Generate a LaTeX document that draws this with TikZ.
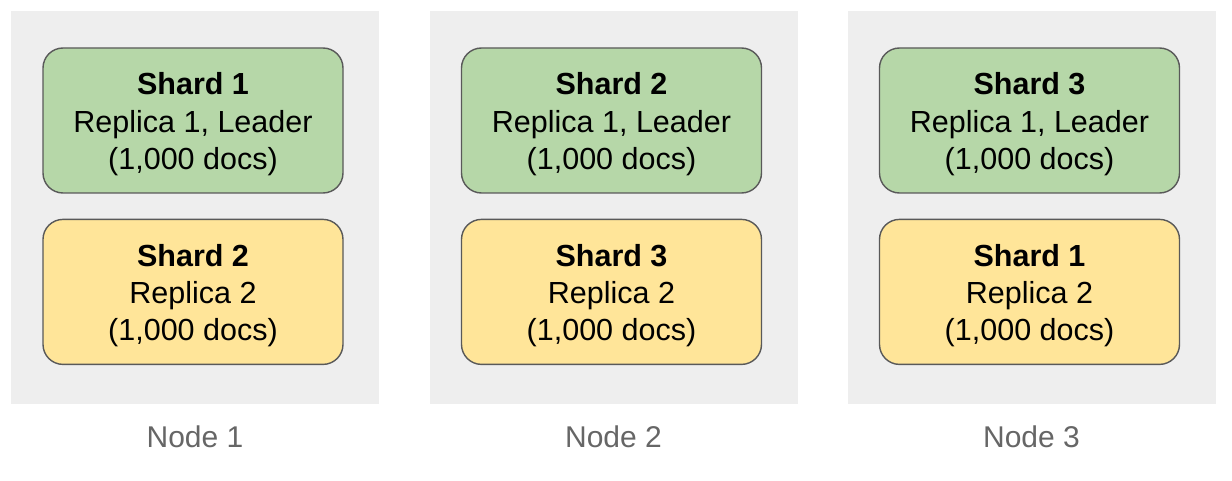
\documentclass[tikz,border=0pt]{standalone}
\usepackage{fontspec}
\setmainfont{Liberation Sans}
\usepackage{xcolor}
\usepackage{tikz}
\usetikzlibrary{positioning}

\definecolor{panelgray}{HTML}{EEEEEE}
\definecolor{leadergreen}{HTML}{B6D7A8}
\definecolor{replicayellow}{HTML}{FFE599}
\definecolor{edgegray}{HTML}{595959}
\definecolor{labelgray}{HTML}{666666}

\begin{document}
\begin{tikzpicture}[
    x=1pt, y=-1pt,
    node distance=25pt,
    host/.style={rectangle, fill=panelgray, minimum width=368pt, minimum height=393pt, inner sep=0pt},
    shard/.style={rectangle, draw=edgegray, line width=1.4pt, minimum width=300pt, minimum height=145pt, align=center, font=\fontsize{30.5}{37.3}\selectfont, text height=104pt, rounded corners=20pt, inner sep=0pt},
    leader/.style={shard, fill=leadergreen},
    replica/.style={shard, fill=replicayellow},
    hostlabel/.style={text=labelgray, font=\fontsize{30}{36}\selectfont, inner sep=0pt}
]
\useasboundingbox (0,0) rectangle (1232,481);

% the three hosts
\node[host] (node1) at (195,207.5) {};
\node[host] (node2) at (613.5,207.5) {};
\node[host] (node3) at (1031.5,207.5) {};

% leaders on top, replicas below
\node[leader] (s1r1) at (193,120.5) {\textbf{Shard 1}\\Replica 1, Leader\\(1,000 docs)};
\node[replica, below=of s1r1] (s2r2) {\textbf{Shard 2}\\Replica 2\\(1,000 docs)};

\node[leader] (s2r1) at (611.5,120.5) {\textbf{Shard 2}\\Replica 1, Leader\\(1,000 docs)};
\node[replica, below=of s2r1] (s3r2) {\textbf{Shard 3}\\Replica 2\\(1,000 docs)};

\node[leader] (s3r1) at (1029.5,120.5) {\textbf{Shard 3}\\Replica 1, Leader\\(1,000 docs)};
\node[replica, below=of s3r1] (s1r2) {\textbf{Shard 1}\\Replica 2\\(1,000 docs)};

% host names
\node[hostlabel, below=33pt of node1, anchor=center] (lab1) {Node 1};
\node[hostlabel, below=33pt of node2, anchor=center] (lab2) {Node 2};
\node[hostlabel, below=33pt of node3, anchor=center] (lab3) {Node 3};
\end{tikzpicture}
\end{document}
